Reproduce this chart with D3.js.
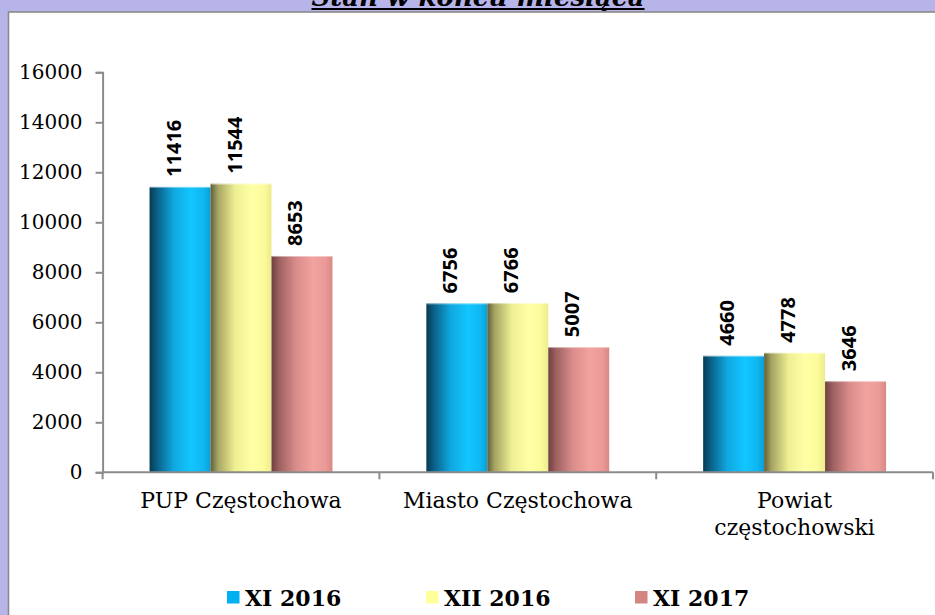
<!DOCTYPE html>
<html><head><meta charset="utf-8">
<script src="https://cdn.jsdelivr.net/npm/d3@7"></script>
<style>
html,body{margin:0;padding:0;background:#b7b4ea;overflow:hidden}
svg{display:block}
</style></head>
<body>
<svg id="c" width="935" height="615"></svg>
<script>
const title = "Stan w końcu miesiąca";
const categories = ["PUP Częstochowa", "Miasto Częstochowa", "Powiat\nczęstochowski"];
const series = ["XI 2016", "XII 2016", "XI 2017"];
const xi2016 = [11416, 6756, 4660];
const xii2016 = [11544, 6766, 4778];
const xi2017 = [8653, 5007, 3646];
const yTicks = [0, 2000, 4000, 6000, 8000, 10000, 12000, 14000, 16000];

const values = [xi2016, xii2016, xi2017];
const data = categories.map((c, i) => ({cat: c, vals: series.map((s, j) => ({s, j, v: values[j][i]}))}));

const svg = d3.select("#c");
const W = 935, H = 615;

// white panel
svg.append("rect").attr("x", 8.5).attr("y", 12).attr("width", W).attr("height", H)
  .attr("fill", "#ffffff").attr("stroke", "#8a8a8a").attr("stroke-width", 1.6);

// title (mostly cut off at top)
const t = svg.append("text").attr("x", 478).attr("y", 6).attr("text-anchor", "middle")
  .attr("font-family", "DejaVu Serif").attr("font-weight", "bold").attr("font-style", "italic")
  .attr("font-size", 26).attr("fill", "#000").text(title);
const tl = t.node().getComputedTextLength();
svg.append("rect").attr("x", 478 - tl / 2).attr("y", 8).attr("width", tl).attr("height", 2).attr("fill", "#000");

const x0 = d3.scaleBand().domain(categories).range([102.6, 933]).paddingInner(0).paddingOuter(0);
const x1 = d3.scaleBand().domain(series).range([0, x0.bandwidth()]).paddingInner(0).paddingOuter(0.77);
const y = d3.scaleLinear().domain([0, 16000]).range([472.3, 72.3]);

// gradients
const grads = [
  [[0, "#073a52"], [0.12, "#0a5f85"], [0.4, "#10a8e0"], [0.68, "#12c6ff"], [0.88, "#0fb8f2"], [1, "#0c9fd4"]],
  [[0, "#5f5e3a"], [0.12, "#a5a462"], [0.4, "#eeee92"], [0.68, "#ffffa6"], [0.88, "#fbfb9c"], [1, "#ecec8c"]],
  [[0, "#6e3f3f"], [0.12, "#9c5f5f"], [0.4, "#d98d8b"], [0.68, "#f2a29f"], [0.88, "#eb9a97"], [1, "#d98886"]]
];
const defs = svg.append("defs");
grads.forEach((g, i) => {
  const lg = defs.append("linearGradient").attr("id", "g" + i).attr("x1", "0").attr("x2", "1").attr("y1", "0").attr("y2", "0");
  g.forEach(([o, c]) => lg.append("stop").attr("offset", o).attr("stop-color", c));
});
const legendColors = ["#00b0f0", "#ffff9c", "#d48481"];

// axes lines
const axisColor = "#8c8c8c";
const yAxis = svg.append("g").attr("transform", "translate(102.6,0)")
  .call(d3.axisLeft(y).tickValues(yTicks).tickSize(7).tickPadding(13).tickFormat(d3.format("d")));
yAxis.select(".domain").attr("stroke", axisColor).attr("stroke-width", 2);
yAxis.selectAll(".tick line").attr("stroke", axisColor).attr("stroke-width", 2);
yAxis.selectAll(".tick text").attr("font-family", "DejaVu Serif").attr("font-size", 20).attr("fill", "#000");

// bars
const groups = svg.append("g").selectAll("g").data(data).join("g")
  .attr("transform", d => `translate(${x0(d.cat)},0)`);
groups.selectAll("rect.bar").data(d => d.vals).join("rect").attr("class", "bar")
  .attr("x", d => x1(d.s)).attr("width", x1.bandwidth())
  .attr("y", d => y(d.v)).attr("height", d => y(0) - y(d.v))
  .attr("fill", d => `url(#g${d.j})`);
groups.selectAll("line.top").data(d => d.vals).join("line").attr("class", "top")
  .attr("x1", d => x1(d.s)).attr("x2", d => x1(d.s) + x1.bandwidth())
  .attr("y1", d => y(d.v) + 0.5).attr("y2", d => y(d.v) + 0.5)
  .attr("stroke", "#ffffff").attr("stroke-opacity", 0.45).attr("stroke-width", 1);
groups.selectAll("text.val").data(d => d.vals).join("text").attr("class", "val")
  .attr("transform", d => `translate(${x1(d.s) + x1.bandwidth() / 2 + 0.5},${y(d.v) - 10}) rotate(-90)`)
  .attr("font-family", "Open Sans").attr("font-weight", "bold").attr("font-size", 20).attr("fill", "#000")
  .text(d => d.v);

// x axis
const xAxis = svg.append("g").attr("transform", "translate(0,472.3)");
xAxis.append("line").attr("x1", 102.6).attr("x2", 933).attr("stroke", axisColor).attr("stroke-width", 2);
const bounds = categories.map(c => x0(c)).concat([x0(categories[categories.length - 1]) + x0.bandwidth()]);
xAxis.selectAll("line.tk").data(bounds).join("line").attr("class", "tk")
  .attr("x1", d => d).attr("x2", d => d).attr("y1", 0).attr("y2", 7)
  .attr("stroke", axisColor).attr("stroke-width", 2);
xAxis.selectAll("text.cat").data(categories).join("text").attr("class", "cat")
  .attr("x", d => x0(d) + x0.bandwidth() / 2).attr("y", 36)
  .attr("text-anchor", "middle").attr("font-family", "DejaVu Serif").attr("font-size", 22).attr("fill", "#000")
  .each(function (d) {
    const lines = d.split("\n");
    d3.select(this).selectAll("tspan").data(lines).join("tspan")
      .attr("x", x0(d) + x0.bandwidth() / 2).attr("dy", (l, i) => i === 0 ? 0 : 26.5).text(l => l);
  });

// legend
const legX = [227, 426, 635];
const leg = svg.append("g").selectAll("g").data(series).join("g")
  .attr("transform", (d, i) => `translate(${legX[i]},591)`);
leg.append("rect").attr("width", 12.5).attr("height", 12.5).attr("fill", (d, i) => legendColors[i]);
leg.append("text").attr("x", 18).attr("y", 15).attr("font-family", "DejaVu Serif").attr("font-weight", "bold")
  .attr("font-size", 22).attr("fill", "#000").text(d => d);
</script>
</body></html>
